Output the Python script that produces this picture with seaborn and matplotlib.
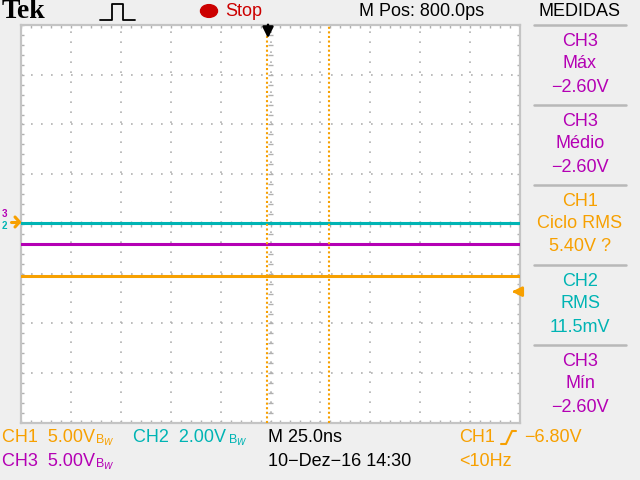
import numpy as np
import pandas as pd
import matplotlib
matplotlib.use("Agg")
import matplotlib.pyplot as plt
import seaborn as sns
from matplotlib.lines import Line2D
from matplotlib.patches import Circle

tempo_div = [-5.0, 5.0]
canais = ["CH1", "CH2", "CH3"]
nivel_div = [-1.05, 0.02, -0.40]          # nível de cada traço
cursores_div = [-0.07, 1.17]              # cursores verticais (CH1)
trigger_div = -1.36                       # nível de disparo
trigger_pos_div = -0.05

cores = {"CH1": "#f7a000", "CH2": "#00b4b4", "CH3": "#b400b4"}

medidas_canal = ["CH3", "CH3", "CH1", "CH2", "CH3"]
medidas_nome = ["Máx", "Médio", "Ciclo RMS", "RMS", "Mín"]
medidas_valor = ["−2.60V", "−2.60V", "5.40V ?", "11.5mV", "−2.60V"]

FUNDO = "#efefef"
GRADE = "#b0b0b0"
FONTE = ["Liberation Sans", "DejaVu Sans"]

df = pd.DataFrame({
    "t": tempo_div * len(canais),
    "v": [n for n in nivel_div for _ in tempo_div],
    "canal": [c for c in canais for _ in tempo_div],
})

sns.set_style("white")
plt.rcParams["font.family"] = FONTE
plt.rcParams["text.color"] = "black"

fig = plt.figure(figsize=(6.4, 4.8), dpi=100, facecolor=FUNDO)
W, H = 640, 480


def px(x, y):
    return x / W, 1 - y / H


ax = fig.add_axes([21 / W, 1 - 423 / H, 499 / W, 398 / H])
ax.set_facecolor("white")
ax.set_xlim(-5, 5)
ax.set_ylim(-4, 4)
ax.set_xticks([])
ax.set_yticks([])
for s in ax.spines.values():
    s.set_color("#c4c4c4")
    s.set_linewidth(1.6)

# grade pontilhada
for gx in range(-4, 5):
    ax.axvline(gx, color=GRADE, lw=1.2, ls=(0, (1, 5)), zorder=1)
for gy in range(-3, 4):
    ax.axhline(gy, color=GRADE, lw=1.2, ls=(0, (1, 5)), zorder=1)

# marcas finas nas bordas e nos eixos centrais
mx = np.arange(-5, 5.01, 0.2)
my = np.arange(-4, 4.01, 0.2)
tk = 0.06
ax.vlines(mx, 4 - tk, 4, color=GRADE, lw=1, zorder=1)
ax.vlines(mx, -4, -4 + tk, color=GRADE, lw=1, zorder=1)
ax.hlines(my, -5, -5 + tk, color=GRADE, lw=1, zorder=1)
ax.hlines(my, 5 - tk, 5, color=GRADE, lw=1, zorder=1)
ax.vlines(mx, -tk, tk, color=GRADE, lw=1, zorder=1)
ax.hlines(my, -tk, tk, color=GRADE, lw=1, zorder=1)

# traços
sns.lineplot(data=df, x="t", y="v", hue="canal", palette=cores,
             linewidth=2.2, legend=False, ax=ax, zorder=3)

# cursores
for c in cursores_div:
    ax.axvline(c, color=cores["CH1"], lw=1.5, ls=(0, (1, 1.2)), zorder=4)

# marcador de disparo (topo) e nível de disparo (direita)
ax.annotate("", xy=(trigger_pos_div, 3.68), xytext=(trigger_pos_div, 4.06),
            arrowprops=dict(arrowstyle="-|>", color="black", lw=1.8,
                            mutation_scale=16), annotation_clip=False, zorder=6)
ax.annotate("", xy=(4.78, trigger_div), xytext=(5.0, trigger_div),
            arrowprops=dict(arrowstyle="-|>", color=cores["CH1"], lw=2,
                            mutation_scale=14), annotation_clip=False, zorder=6)

# marcadores de terra à esquerda
fig.text(*px(2, 214), "3", color=cores["CH3"], fontsize=7, ha="left", va="center",
         fontweight="bold")
fig.text(*px(2, 226), "2", color=cores["CH2"], fontsize=7, ha="left", va="center",
         fontweight="bold")
fig.add_artist(Line2D([11 / W, 19 / W], [1 - 222 / H] * 2, color=cores["CH1"], lw=2.2))
fig.add_artist(Line2D([15 / W, 19.5 / W, 15 / W], [1 - 217 / H, 1 - 222 / H, 1 - 227 / H],
                      color=cores["CH1"], lw=2.2))

# cabeçalho
fig.text(*px(2, 12), "Tek", fontsize=20, fontweight="bold", family="Liberation Serif",
         ha="left", va="center")
fig.add_artist(Line2D(np.array([100, 112, 112, 123, 123, 135]) / W,
                      1 - np.array([20, 20, 4, 4, 20, 20]) / H, color="black", lw=1.3))
fig.add_artist(Circle(px(209, 11), 8.5 / W, transform=fig.transFigure,
                      color="#cc0000"))
fig.text(*px(225, 12), "Stop", color="#cc0000", fontsize=13, ha="left", va="center")
fig.text(*px(359, 12), "M Pos: 800.0ps", fontsize=13, ha="left", va="center")
fig.text(*px(580, 12), "MEDIDAS", fontsize=13, ha="center", va="center")

# painel de medidas
for i in range(5):
    y = 25 + 80 * i
    fig.add_artist(Line2D([534 / W, 626 / W], [1 - y / H] * 2,
                          color="#b8b8b8", lw=1.8))
for i, (c, n, v) in enumerate(zip(medidas_canal, medidas_nome, medidas_valor)):
    y0 = 25 + 80 * i
    for dy, txt in zip([17, 39, 62], [c, n, v]):
        fig.text(*px(580, y0 + dy), txt, color=cores[c], fontsize=13,
                 ha="center", va="center")

# rodapé
fig.text(*px(2, 437), "CH1  5.00V", color=cores["CH1"], fontsize=13, va="center")
fig.text(*px(95, 440), "B$_W$", color=cores["CH1"], fontsize=9, va="center")
fig.text(*px(133, 437), "CH2  2.00V", color=cores["CH2"], fontsize=13, va="center")
fig.text(*px(228, 440), "B$_W$", color=cores["CH2"], fontsize=9, va="center")
fig.text(*px(2, 461), "CH3  5.00V", color=cores["CH3"], fontsize=13, va="center")
fig.text(*px(95, 464), "B$_W$", color=cores["CH3"], fontsize=9, va="center")
fig.text(*px(268, 437), "M 25.0ns", fontsize=13, va="center")
fig.text(*px(268, 461), "10−Dez−16 14:30", fontsize=13, va="center")
fig.text(*px(459, 437), "CH1", color=cores["CH1"], fontsize=13, va="center")
fig.add_artist(Line2D(np.array([501, 506, 512, 516]) / W,
                      1 - np.array([444, 444, 431, 431]) / H, color=cores["CH1"], lw=1.5))
fig.text(*px(524, 437), "−6.80V", color=cores["CH1"], fontsize=13, va="center")
fig.text(*px(459, 461), "<10Hz", color=cores["CH1"], fontsize=13, va="center")

fig.savefig("out.png", dpi=100, facecolor=FUNDO)
